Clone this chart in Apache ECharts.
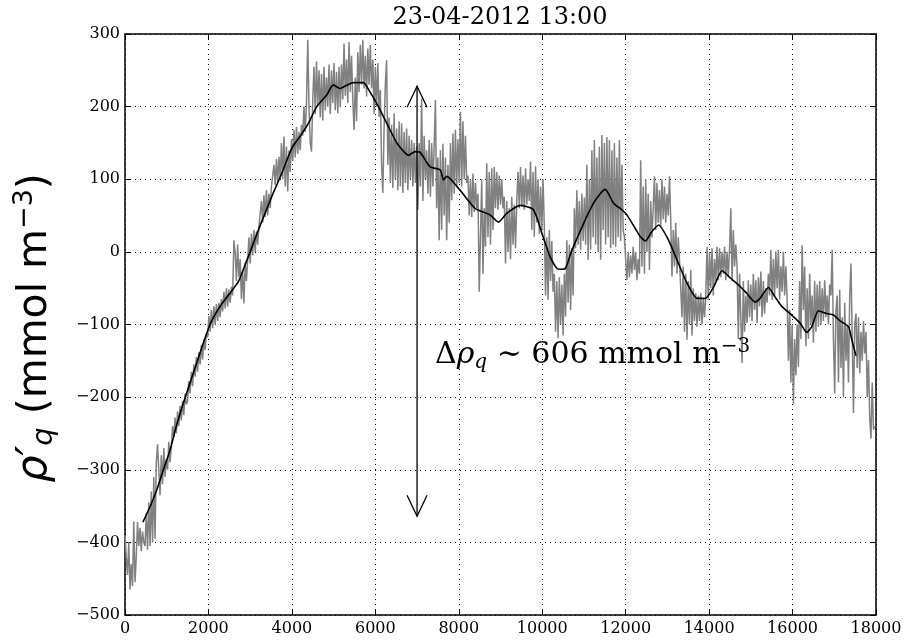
<!DOCTYPE html>
<html>
<head>
<meta charset="utf-8">
<script src="https://cdn.jsdelivr.net/npm/echarts@6/dist/echarts.min.js"></script>
<style>
  html, body { margin: 0; padding: 0; background: #fff; }
  #chart { width: 906px; height: 641px; }
</style>
</head>
<body>
<div id="chart"></div>
<script>
// ---- chart data ----
const chartTitle = '23-04-2012 13:00';

// axis ranges and tick spacing
const xRange = [0, 18000];
const xStep = 2000;
const yRange = [-500, 300];
const yStep = 100;

// raw record: one value every rawStep units along x, starting at rawStart
const rawStart = 0;
const rawStep = 30;
const rawValues = [
  // 0 - 1080
  -390, -420, -445, -400, -465, -430, -460, -371, -455, -420,
  -372, -405, -380, -412, -385, -400,
  -405, -360, -410, -345, -405, -330, -400, -310, -395, -290, -265,
  -300, -335, -280, -320, -270, -310, -285, -300, -262, -290,
  // 1110 - 2610
  -268, -240, -255, -228, -250, -220, -240, -212, -232, -205, -225, -195, -210,
  -205, -178, -195, -165, -185, -155, -172, -145, -165, -138, -155, -128, -148, -120, -135, -112,
  -118, -88, -110, -80, -105, -75, -100, -72, -95, -70, -90, -65,
  -82, -55, -78, -50, -75, -52, -70, -48, -60, 16,
  // 2640 - 4530
  0, -40, 10, -35,
  -10, -65, -25, -71, -15, -40,
  -12, 20, -16, 25, -5, 30, 0, 28, 10, 35,
  35, 70, 40, 78, 48, 85, 50, 80, 60, 90,
  88, 120, 92, 128, 95, 131, 100,
  150, 100, 159, 90, 145, 83, 140, 110, 155,
  125, 168, 130, 172, 135, 165, 140, 175,
  160, 200, 165, 204, 292,
  200, 150, 138, 210, 255,
  // 4560 - 6270
  190, 262, 200, 250, 185, 245, 181, 255, 195, 240, 200, 258, 190, 250, 205, 260, 195, 248, 191, 255,
  200, 258, 210, 287, 215, 265, 205, 289, 220, 270, 210,
  168, 240, 180,
  275, 220, 285, 230, 292, 225, 270, 214, 280, 230, 285, 225, 265,
  190, 255, 200, 260, 186,
  223, 120, 81, 170, 230, 264,
  // 6300 - 8190
  120, 185, 95, 175, 88, 191, 100, 170, 85, 180,
  90, 177, 81, 165, 95, 170, 85, 160,
  100, 154, 90, 150, 95, 145,
  58, 150, 90, 211, 70, 160, 100, 140,
  80, 154, 76, 150, 90, 145,
  209, 60, 130, 16,
  140, 30, 149, 50, 130, 16, 120, 40,
  150, 71, 163, 80, 168, 90, 155,
  95, 193, 90, 180, 100, 160, 95,
  // 8220 - 10020
  105, 50, 100, 48, 108, 55, 95, 60,
  80, -55, 20, 100, -30,
  60, 7, 122, 20, 110, 10, 115, 30,
  117, 60, 110, 58, 105, 65, 100, 60,
  76, -16, 70, 0, 60, -10, 76, 10, 65, 5, 70,
  110, 60, 117, 62, 105, 58, 115, 65, 100, 70,
  124, 30, 110, 21, 118, 40, 100, 25, 90, 30, 100,
  // 10050 - 11970
  35, -60, 20, -66, 30, -40, 15, -55,
  -30, -110, -40, -119, -35, -100, -45, -115, -30,
  -89, 16, -70, 10, -80, 5, -60,
  60, 5, 85, 10, 70, 3, 80, 15, 75, 10,
  120, -11, 100, 3, 140, 20, 154, 10, 130, 0, 145,
  -11, 161, 30, 150, 10, 158, 20, 154, 5,
  140, 10, 150, 7, 130, 20, 154, 15, 120, 30, 20,
  // 12000 - 13920
  -10, -39, 0, -35, -5, -30, 7, -25, 0, -39, -10, -30,
  126, -20, 90, -30, 100, 0, 80, -25, 70, 20, 60,
  104, 30, 95, 40, 85, 35, 100, 45, 90, 40, 80, 50, 104,
  44, -34, 30, -20, 40, -30, 20, -11,
  -11, -90, -20, -110, -30, -121, -40, -100, -25, -115, -50, -95, -57,
  -103, -60, -95, -57, -100, -65, -90, -60,
  // 13950 - 15840
  7, -66, 0, -50, 5, -60, -10, -40,
  7, -39, 5, -35, 0, -30, 7, -39, 0, -35, 5,
  60, -40, 30, -20, 10,
  -20, -120, -30, -90, -153, -40, -110, -60, -98, -39, -90,
  -45, -95, -30, -80, -39, -98, -35, -75, -27, -90, -40, -85, -50, -70, -30, -60,
  3, -66, -10, -60, 0, -50, 3, -66, -20, -55, 0, -60, -20,
  // 15870 - 17970
  -66, -150, -80, -180, -100, -209, -120, -170,
  -100, -158, -40, -120, 9, -80,
  -20, -130, -50, -120, -30, -100, -60, -125, -40, -110,
  -45, -103, -40, -100, -50, -95, -39, -90, -60, -100, -45,
  -60, 3, -120, -195, -80,
  -60, -180, -52, -160, -90, -200, -70, -150, -100, -180, -60, -16, -120,
  -222, -100, -85, -160, -90, -167, -110, -150, -95, -140, -110,
  -200, -149, -230, -257, -180, -245, -240
];

// running mean
const smoothX = [
  430, 600, 760, 920, 1080, 1240, 1400, 1700, 2037, 2277,
  2500, 2717, 2850, 3000, 3196, 3516, 3756, 4000, 4195, 4395,
  4595, 4835, 4990, 5154, 5300, 5474, 5714, 5874, 6074, 6274,
  6514, 6700, 6794, 6950, 7074, 7314, 7554, 7634, 7714, 8030,
  8390, 8750, 8950, 9150, 9470, 9790, 9990, 10190, 10390, 10550,
  10710, 10990, 11230, 11390, 11510, 11710, 11910, 12030, 12350, 12470,
  12630, 12790, 13030, 13230, 13470, 13710, 13910, 14110, 14310, 14510,
  14750, 14900, 15100, 15220, 15420, 15580, 15740, 15980, 16180, 16340,
  16460, 16620, 16820, 16980, 17140, 17340, 17420, 17520
];
const smoothY = [
  -372, -351, -328, -300, -273, -238, -208, -156, -100, -75,
  -58, -41, -22, 0, 30, 76, 108, 143, 159, 177,
  200, 216, 230, 225, 229, 233, 233, 220, 200, 177,
  150, 137, 133, 138, 137, 117, 113, 99, 104, 85,
  60, 51, 41, 53, 64, 58, 26, -7, -24, -23,
  2, 39, 67, 80, 86, 67, 58, 51, 21, 15,
  28, 37, 16, -11, -43, -64, -64, -48, -26, -36,
  -48, -57, -69, -64, -49, -62, -75, -87, -98, -111,
  -103, -81, -85, -87, -95, -103, -121, -143
];

// range arrow and its label
const arrowX = 7000;
const arrowTop = 228;
const arrowBottom = -364;
const noteX = 7431;
const noteY = -142;
const noteText = '{d|Δ}{r|ρ}{s|q} ∼ 606 mmol m{p|−3}';
const yName = '{r|ρ′}{s|q} (mmol m{p|−3})';

// ---- build series data ----
const rawData = rawValues.map((v, i) => [rawStart + i * rawStep, v]);
const smoothData = smoothX.map((x, i) => [x, smoothY[i]]);

const serif = '"DejaVu Serif", serif';
const sans = '"DejaVu Sans", sans-serif';
const minus = v => (v < 0 ? '\u2212' + Math.abs(v) : String(v));

const gridLine = { show: true, lineStyle: { color: '#000', width: 1, type: [1, 4] } };
const spine = { show: true, onZero: false, lineStyle: { color: '#000', width: 1.5 } };
const tick = { show: true, inside: true, length: 5, lineStyle: { color: '#000', width: 1 } };

const chart = echarts.init(document.getElementById('chart'), null, { renderer: 'canvas' });

chart.setOption({
  animation: false,
  backgroundColor: '#fff',
  grid: { left: 125, right: 30, top: 34, bottom: 26, containLabel: false },
  xAxis: [
    {
      type: 'value', position: 'bottom', min: xRange[0], max: xRange[1], interval: xStep,
      axisLine: spine, axisTick: tick, splitLine: gridLine,
      axisLabel: { fontFamily: serif, fontSize: 16, color: '#000', margin: 6, formatter: minus }
    },
    {
      type: 'value', position: 'top', min: xRange[0], max: xRange[1], interval: xStep,
      axisLine: spine, axisTick: tick, splitLine: { show: false }, axisLabel: { show: false }
    }
  ],
  yAxis: [
    {
      type: 'value', position: 'left', min: yRange[0], max: yRange[1], interval: yStep,
      axisLine: spine, axisTick: tick, splitLine: gridLine,
      axisLabel: { fontFamily: serif, fontSize: 16, color: '#000', margin: 5, formatter: minus }
    },
    {
      type: 'value', position: 'right', min: yRange[0], max: yRange[1], interval: yStep,
      axisLine: spine, axisTick: tick, splitLine: { show: false }, axisLabel: { show: false }
    }
  ],
  series: [
    {
      name: 'raw', type: 'line', data: rawData, showSymbol: false, symbol: 'none',
      lineStyle: { color: '#808080', width: 1.5 }, z: 2
    },
    {
      name: 'mean', type: 'line', data: smoothData, showSymbol: false, symbol: 'none',
      smooth: 0.2, lineStyle: { color: '#000', width: 1.6 }, z: 3
    },
    {
      name: 'range', type: 'custom', data: [[arrowX, arrowTop, arrowBottom]],
      encode: { x: 0, y: [1, 2] }, silent: true, z: 4,
      renderItem(params, api) {
        const top = api.coord([api.value(0), api.value(1)]);
        const bot = api.coord([api.value(0), api.value(2)]);
        const hw = 10, hl = 21;
        const st = { stroke: '#000', fill: null, lineWidth: 1.3 };
        return {
          type: 'group',
          children: [
            { type: 'line', shape: { x1: top[0], y1: top[1], x2: bot[0], y2: bot[1] }, style: st },
            { type: 'polyline', shape: { points: [[top[0] - hw, top[1] + hl], top, [top[0] + hw, top[1] + hl]] }, style: st },
            { type: 'polyline', shape: { points: [[bot[0] - hw, bot[1] - hl], bot, [bot[0] + hw, bot[1] - hl]] }, style: st }
          ]
        };
      }
    },
    {
      name: 'note', type: 'custom', data: [[noteX, noteY]],
      encode: { x: 0, y: 1 }, silent: true, z: 5,
      renderItem(params, api) {
        const p = api.coord([api.value(0), api.value(1)]);
        return {
          type: 'text',
          style: {
            x: p[0], y: p[1], text: noteText,
            align: 'left', verticalAlign: 'middle', textAlign: 'left', textVerticalAlign: 'middle',
            fill: '#000', font: '30px ' + serif,
            rich: {
              d: { fontFamily: serif, fontSize: 30, fill: '#000' },
              r: { fontFamily: serif, fontSize: 30, fontStyle: 'italic', fill: '#000' },
              s: { fontFamily: serif, fontSize: 20, fontStyle: 'italic', verticalAlign: 'bottom', padding: [16, 0, 0, 0], fill: '#000' },
              p: { fontFamily: serif, fontSize: 20, verticalAlign: 'top', padding: [0, 0, 12, 0], fill: '#000' }
            }
          }
        };
      }
    }
  ],
  graphic: [
    {
      type: 'text', x: 500, y: 18, silent: true,
      style: {
        text: chartTitle, fill: '#000', font: '24px ' + serif,
        align: 'center', verticalAlign: 'middle', textAlign: 'center', textVerticalAlign: 'middle'
      }
    },
    {
      type: 'text', x: 35, y: 328, rotation: Math.PI / 2, silent: true,
      style: {
        text: yName,
        fill: '#000', font: '41px ' + sans,
        align: 'center', verticalAlign: 'middle', textAlign: 'center', textVerticalAlign: 'middle',
        rich: {
          r: { fontFamily: sans, fontSize: 43, fontStyle: 'italic', fill: '#000' },
          s: { fontFamily: sans, fontSize: 29, fontStyle: 'italic', verticalAlign: 'bottom', padding: [18, 0, 0, 0], fill: '#000' },
          p: { fontFamily: sans, fontSize: 27, verticalAlign: 'top', padding: [0, 0, 12, 0], fill: '#000' }
        }
      }
    }
  ]
});
</script>
</body>
</html>
